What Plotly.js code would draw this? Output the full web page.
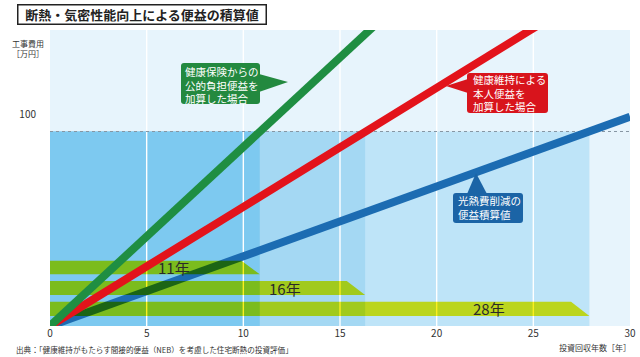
<!DOCTYPE html>
<html><head><meta charset="utf-8">
<script src="https://cdn.plot.ly/plotly-3.0.1.min.js"></script>
<style>html,body{margin:0;padding:0;background:#fff;} #chart{width:640px;height:357px;}</style>
</head><body><div id="chart"></div>
<script>
// ---- data ----
const years = [0, 30];
const energySavings = [0, 99];     // 光熱費削減の便益積算値
const healthPersonal = [0, 169];   // 健康維持による本人便益を加算した場合
const healthPublic = [0, 254];     // 健康保険からの公的負担便益を加算した場合
const constructionCost = 92;       // 工事費用 [万円]
const paybackYears = [10.85, 16.3, 27.9];
const paybackLabels = ['11年', '16年', '28年'];
const xTicks = [0, 5, 10, 15, 20, 25, 30];
const yTicks = [100];

// ---- layout constants ----
const W = 640, H = 357;
const L = 50, R = 630, T = 30, B = 326;
const X_MAX = 30, Y_MAX = 140;
const FONT = '"Noto Sans CJK JP", "Noto Sans", sans-serif';
const px2paperX = p => (p - L) / (R - L);
const py2paperY = p => (B - p) / (B - T);
const py2y = p => (B - p) / (B - T) * Y_MAX;
const P = (x, y) => px2paperX(x).toFixed(5) + ',' + py2paperY(y).toFixed(5);

const regionColors = ['#7dc9f0', '#a4d8f3', '#bee4f8'];
const barRowsPx = [[260.7, 274.3], [281, 295], [301.7, 316]];
const barSlant = 0.95;
const labelX = [6.4, 12.15, 22.7];

// ---- callout shapes ----
const shapes = [];
function roundRect(x0, y0, x1, y1, r) {
  return `M ${P(x0 + r, y0)} L ${P(x1 - r, y0)} Q ${P(x1, y0)} ${P(x1, y0 + r)} L ${P(x1, y1 - r)} Q ${P(x1, y1)} ${P(x1 - r, y1)} L ${P(x0 + r, y1)} Q ${P(x0, y1)} ${P(x0, y1 - r)} L ${P(x0, y0 + r)} Q ${P(x0, y0)} ${P(x0 + r, y0)} Z`;
}
function tri(a, b, c) { return `M ${P(a[0], a[1])} L ${P(b[0], b[1])} L ${P(c[0], c[1])} Z`; }
const callouts = [
  {color: '#23893f', box: [181, 63, 260, 104], wedge: [[259, 74], [288, 82], [259, 92]],
   text: '健康保険からの<br>公的負担便益を<br>加算した場合', tx: 183, ty: 85},
  {color: '#d8141c', box: [467, 73, 548, 113], wedge: [[468, 79], [446, 86], [468, 93]],
   text: '健康維持による<br>本人便益を<br>加算した場合', tx: 471, ty: 93.5},
  {color: '#1b64a6', box: [453, 193, 523, 223], wedge: [[467, 194], [476, 173], [487, 194]],
   text: '光熱費削減の<br>便益積算値', tx: 456, ty: 207}
];
callouts.forEach(c => {
  shapes.push({type: 'path', xref: 'paper', yref: 'paper', path: roundRect(c.box[0], c.box[1], c.box[2], c.box[3], 3),
    fillcolor: c.color, line: {width: 0}, layer: 'above'});
  shapes.push({type: 'path', xref: 'paper', yref: 'paper', path: tri(c.wedge[0], c.wedge[1], c.wedge[2]),
    fillcolor: c.color, line: {width: 0}, layer: 'above'});
});

// ---- traces ----
const traces = [];
// payback regions below the cost level (widest first)
for (let i = paybackYears.length - 1; i >= 0; i--) {
  traces.push({x: [0, paybackYears[i], paybackYears[i], 0, 0], y: [0, 0, constructionCost, constructionCost, 0],
    type: 'scatter', mode: 'lines', fill: 'toself', fillcolor: regionColors[i], line: {width: 0},
    hoverinfo: 'skip', showlegend: false});
}
// vertical grid lines
const gx = [], gy = [];
xTicks.filter(t => t > 0 && t < X_MAX).forEach(t => { gx.push(t, t, null); gy.push(0, Y_MAX, null); });
traces.push({x: gx, y: gy, type: 'scatter', mode: 'lines', line: {color: '#ffffff', width: 1.4},
  hoverinfo: 'skip', showlegend: false});
// cost level
traces.push({x: [0, X_MAX], y: [constructionCost, constructionCost], type: 'scatter', mode: 'lines',
  line: {color: '#8796a3', width: 1.2, dash: 'dot'}, hoverinfo: 'skip', showlegend: false});

const lineTrace = (y, color, name) => ({x: years, y: y, type: 'scatter', mode: 'lines', name: name,
  line: {color: color, width: 8}, hoverinfo: 'skip', showlegend: false});
traces.push(lineTrace(energySavings, '#1c6cb2', '光熱費削減の便益積算値'));
const barIdx = [];
paybackYears.forEach((pb, i) => {
  const top = py2y(barRowsPx[i][0]), bot = py2y(barRowsPx[i][1]);
  barIdx.push(traces.length);
  traces.push({x: [0, pb - barSlant, pb, 0, 0], y: [top, top, bot, bot, top], type: 'scatter', mode: 'lines',
    fill: 'toself', fillcolor: '#fbef1e', line: {width: 0}, hoverinfo: 'skip', showlegend: false, name: paybackLabels[i]});
});
traces.push(lineTrace(healthPersonal, '#e3131b', '健康維持による本人便益を加算した場合'));
traces.push(lineTrace(healthPublic, '#1f8e42', '健康保険からの公的負担便益を加算した場合'));

// ---- annotations ----
const annotations = [
  {xref: 'paper', yref: 'paper', x: px2paperX(17), y: py2paperY(3.5), xanchor: 'left', yanchor: 'top',
   text: '断熱・気密性能向上による便益の積算値', showarrow: false,
   font: {family: FONT, size: 13, color: '#222', weight: 700},
   bordercolor: '#222', borderwidth: 1.5, borderpad: 2, width: 243, height: 14, bgcolor: '#fff'},
  {xref: 'paper', yref: 'paper', x: px2paperX(46), y: py2paperY(48), xanchor: 'right', yanchor: 'middle',
   text: '工事費用<br>［万円］', align: 'right', showarrow: false, font: {family: FONT, size: 8, color: '#333'}},
  {xref: 'paper', yref: 'paper', x: px2paperX(633), y: py2paperY(347), xanchor: 'right', yanchor: 'middle',
   text: '投資回収年数［年］', showarrow: false, font: {family: FONT, size: 8, color: '#333'}},
  {xref: 'paper', yref: 'paper', x: px2paperX(14), y: py2paperY(349), xanchor: 'left', yanchor: 'middle',
   text: '出典：「健康維持がもたらす間接的便益（NEB）を考慮した住宅断熱の投資評価」', showarrow: false,
   font: {family: FONT, size: 7.6, color: '#333'}}
];
paybackLabels.forEach((lab, i) => {
  annotations.push({xref: 'x', yref: 'y', x: labelX[i], y: py2y((barRowsPx[i][0] + barRowsPx[i][1]) / 2),
    text: lab, showarrow: false, xanchor: 'center', yanchor: 'middle', font: {family: FONT, size: 15, color: '#2a2a2a'}});
});
callouts.forEach(c => {
  annotations.push({xref: 'paper', yref: 'paper', x: px2paperX(c.tx), y: py2paperY(c.ty), xanchor: 'left', yanchor: 'middle',
    text: c.text, align: 'left', showarrow: false, font: {family: FONT, size: 10.5, color: '#ffffff'}});
});

const layout = {
  width: W, height: H,
  margin: {l: L, r: W - R, t: T, b: H - B, pad: 0},
  paper_bgcolor: '#ffffff', plot_bgcolor: '#e7f4fc',
  showlegend: false,
  xaxis: {range: [0, X_MAX], tickvals: xTicks, ticktext: xTicks.map(String), showgrid: false, zeroline: false,
    showline: false, ticks: '', tickfont: {family: FONT, size: 10, color: '#333'}, fixedrange: true},
  yaxis: {range: [0, Y_MAX], tickvals: yTicks, ticktext: yTicks.map(String), showgrid: false, zeroline: false,
    showline: false, ticks: 'outside', ticklen: 11, tickcolor: 'rgba(0,0,0,0)',
    tickfont: {family: FONT, size: 10, color: '#333'}, fixedrange: true},
  shapes: shapes,
  annotations: annotations
};

Plotly.newPlot('chart', traces, layout, {staticPlot: true, displayModeBar: false}).then(() => {
  // the period bars are printed with a multiply blend over the regions, grid and blue line
  const groups = document.querySelectorAll('.scatterlayer .trace');
  barIdx.forEach(i => { if (groups[i]) groups[i].style.mixBlendMode = 'multiply'; });
});
</script></body></html>
